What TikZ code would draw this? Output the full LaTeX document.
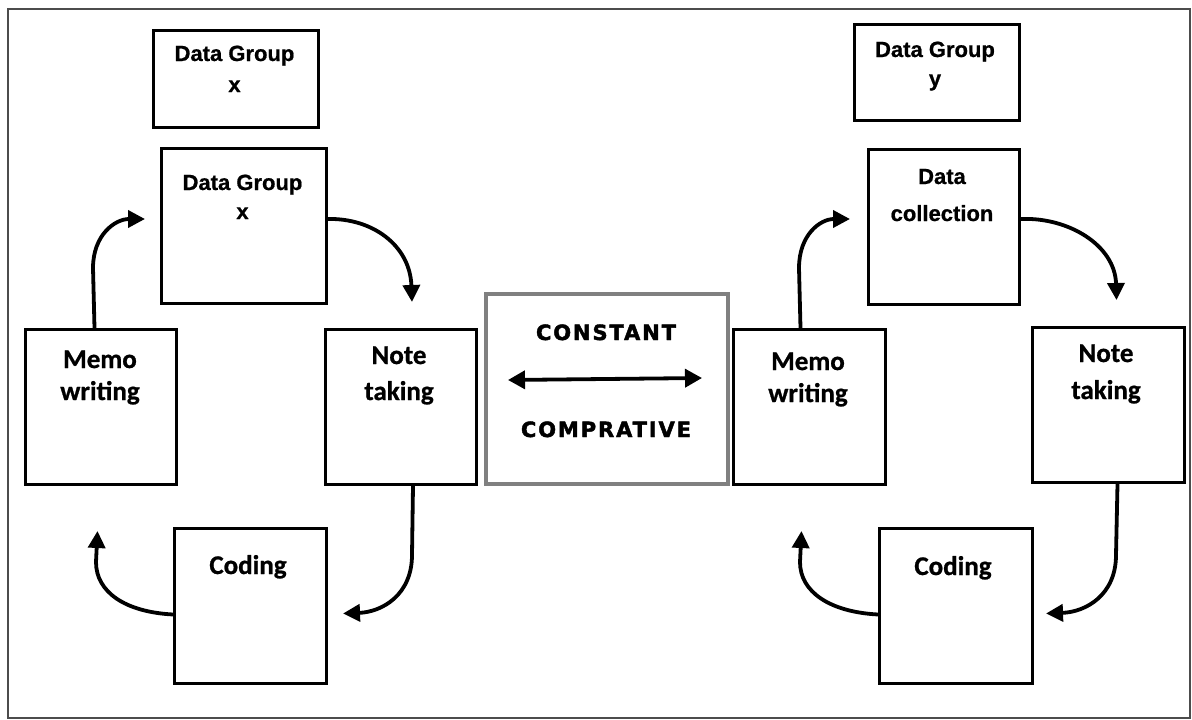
\documentclass[tikz,border=0pt]{standalone}
\usepackage{fontspec}
\setmainfont{Liberation Sans}[BoldFeatures={FakeBold=0.8}]
\newfontfamily\carlitofont{Carlito}[BoldFeatures={FakeBold=0.8}]
\newfontfamily\ccfont{DejaVu Sans}[LetterSpace=9,BoldFeatures={FakeBold=2,LetterSpace=9}]
\usetikzlibrary{arrows.meta,calc}
\begin{document}
\begin{tikzpicture}[x=1pt,y=-1pt,
  box/.style={draw=black,line width=3pt,rectangle,anchor=north west,inner sep=0pt,minimum width=#1},
  box/.default=151pt,
  dg/.style={anchor=base,inner sep=0pt,font=\fontsize{22}{22}\selectfont\bfseries},
  cl/.style={anchor=base,inner sep=0pt,font=\fontsize{27}{27}\selectfont\carlitofont\bfseries},
  cc/.style={anchor=base,inner sep=0pt,font=\fontsize{21}{21}\selectfont\ccfont\bfseries},
  arr/.style={line width=3.8pt,-{Triangle[length=17pt,width=17pt]}},
  darr/.style={line width=3.8pt,{Triangle[length=17pt,width=18pt]}-{Triangle[length=17pt,width=18pt]}}
]
\useasboundingbox (0,0) rectangle (1192,720);
\fill[white] (0,0) rectangle (1192,720);
\draw[line width=2.5pt,black!70] (8,9) rectangle (1190,718);

% ---------- left cycle
\node[box=165pt,minimum height=97pt] (dgxa) at (152,29) {};
\node[dg] (dgxa1) at (234.5,61) {Data Group};
\node[dg] (dgxa2) at (234.5,92) {x};

\node[box=165pt,minimum height=155pt] (dgxb) at (160,147) {};
\node[dg] (dgxb1) at (242.5,190) {Data Group};
\node[dg] (dgxb2) at (242.5,219) {x};

\node[box,minimum height=155pt] (mwL) at (24,328) {};
\node[cl] (mwL1) at (100,368) {Memo};
\node[cl] (mwL2) at (100,400) {writing};

\node[box,minimum height=155pt] (ntL) at (324,328) {};
\node[cl] (ntL1) at (399,364) {Note};
\node[cl] (ntL2) at (399,400) {taking};

\node[box=152pt,minimum height=155pt] (cdL) at (173,527) {};
\node[cl] (cdL1) at (248,574) {Coding};

% ---------- centre
\node[draw=black!50,line width=3.5pt,rectangle,anchor=north west,inner sep=0pt,minimum width=242pt,minimum height=190pt] (ctr) at (484,292) {};
\node[cc] (ctr1) at (606,340) {CONSTANT};
\node[cc] (ctr2) at (606,437) {COMPRATIVE};
\coordinate (dl) at (508,380);
\coordinate (dr) at (702,378);
\draw[darr] (dl) -- (dr);

% ---------- right cycle
\node[box=165pt,minimum height=96pt] (dgy) at (853,23) {};
\node[dg] (dgy1) at (935,57) {Data Group};
\node[dg] (dgy2) at (935,86) {y};

\node[box,minimum height=155pt] (dc) at (867,148) {};
\node[dg] (dc1) at (942,184) {Data};
\node[dg] (dc2) at (942,221) {collection};

\node[box=152pt,minimum height=155pt] (mwR) at (732,328) {};
\node[cl] (mwR1) at (808,370) {Memo};
\node[cl] (mwR2) at (808,402) {writing};

\node[box=152pt,minimum height=155pt] (ntR) at (1031,326) {};
\node[cl] (ntR1) at (1106,362) {Note};
\node[cl] (ntR2) at (1106,399) {taking};

\node[box=153pt,minimum height=155pt] (cdR) at (878,527) {};
\node[cl] (cdR1) at (953,575) {Coding};

% ---------- left arrows
\draw[arr] ($(mwL.north)+(-6.5,0)$) -- (93,268) .. controls (93,235) and (115,219) .. ($(dgxb.west)+(-15,-7)$);
\draw[arr] ($(dgxb.east)+(0,-7)$) .. controls (372,218) and (410,245) .. ($(ntL.north)+(11,-26)$);
\draw[arr] ($(ntL.south)+(12,0)$) -- (412,555) .. controls (412,595) and (382,612) .. ($(cdL.east)+(15,7.5)$);
\draw[arr] ($(cdL.west)+(0,8.5)$) .. controls (125,612) and (96,592) .. (96,562) -- ($(mwL.south)+(-3.5,45)$);

% ---------- right arrows
\draw[arr] ($(mwR.north)+(-9,0)$) -- (799,268) .. controls (799,235) and (820,219) .. ($(dc.west)+(-17,-8)$);
\draw[arr] ($(dc.east)+(0,-8)$) .. controls (1068,217) and (1115,245) .. ($(ntR.north)+(8,-26)$);
\draw[arr] ($(ntR.south)+(9,0)$) -- (1116,555) .. controls (1116,595) and (1086,612) .. ($(cdR.east)+(12,7.5)$);
\draw[arr] ($(cdR.west)+(0,8.5)$) .. controls (830,612) and (800,592) .. (800,562) -- ($(mwR.south)+(-8,45)$);
\end{tikzpicture}
\end{document}
